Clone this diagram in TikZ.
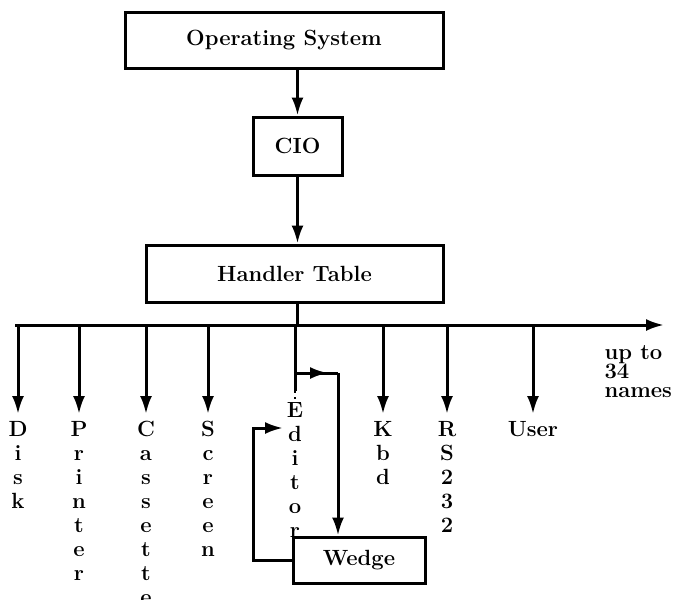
\documentclass[tikz,border=0pt]{standalone}
\usetikzlibrary{arrows.meta}
\tikzset{
  blocco/.style={draw, line width=1.5pt, fill=white, font=\fontsize{11}{12}\selectfont\bfseries, inner sep=0pt},
  nome/.style={font=\fontsize{11}{12}\selectfont\bfseries, align=center, anchor=north, inner sep=0pt},
  freccia/.style={-{Latex[length=9pt,width=6pt]}}
}
\begin{document}
\begin{tikzpicture}[x=0.5pt,y=-0.5pt,line width=1.5pt]
        \useasboundingbox (0,0) rectangle (676,600);
        %blocchi
        \node[blocco,minimum width=159pt,minimum height=28pt] (os) at (284,40) {Operating System};
        \node[blocco,minimum width=44.5pt,minimum height=29pt] (cio) at (297.5,146) {CIO};
        \node[blocco,minimum width=148.5pt,minimum height=28.5pt] (ht) at (294.5,273.5) {Handler Table};
        %frecce verticali
        \draw[freccia] (cio.north |- os.south) -- (cio.north);
        \draw[freccia] (cio.south) -- (cio.south |- ht.north);
        %bus dei nomi
        \coordinate (bus0) at (15,325);
        \coordinate (bus1) at (664,325);
        \draw (cio.south |- ht.south) -- (cio.south |- bus0);
        \draw[freccia] (bus0) -- (bus1);
        \node[font=\fontsize{11}{9.5}\selectfont\bfseries, align=left, anchor=north west, inner sep=0pt] (altri) at (603,344) {up to\\34\\names};
        %nomi
        \foreach \xx/\nm/\txt in {18/disk/{D\\i\\s\\k},79/printer/{P\\r\\i\\n\\t\\e\\r},146/cassette/{C\\a\\s\\s\\e\\t\\t\\e},208/screen/{S\\c\\r\\e\\e\\n},383/kbd/{K\\b\\d},447/rs/{R\\S\\2\\3\\2},533/user/{User}}{
          \node[nome] (\nm) at (\xx,420) {\txt};
          \draw[freccia, shorten >=3pt] (\nm.north |- bus0) -- (\nm.north);
        }
        %editor e wedge
        \node[nome] (ed) at (295,401) {E\\d\\i\\t\\o\\r};
        \coordinate (edbr) at (295,373);
        \coordinate (edgo) at (338,373);
        \draw (ed.north |- bus0) -- ([yshift=5pt]ed.north);
        \draw[line width=1pt, dotted] ([yshift=5pt]ed.north) -- (ed.north);
        \node[blocco,minimum width=66pt,minimum height=23pt] (wedge) at (359,560) {Wedge};
        \draw (edbr) -- (edgo);
        \draw[freccia] (edbr) -- ([xshift=-5pt]edgo);
        \draw[freccia] (edgo) -- (edgo |- wedge.north);
        %ritorno
        \coordinate (rit0) at (253,428);
        \coordinate (rit1) at (283,428);
        \draw[freccia] (wedge.west) -| (rit0) -- (rit1);
\end{tikzpicture}
\end{document}
